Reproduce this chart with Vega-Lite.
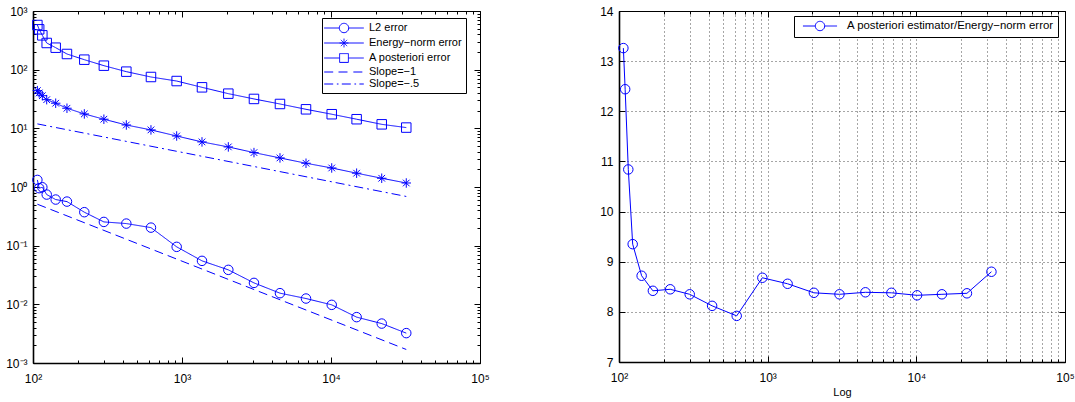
{
  "$schema": "https://vega.github.io/schema/vega-lite/v6.json",
  "padding": {"left": 5, "top": 4, "right": 0, "bottom": 0},
  "background": "white",
  "bounds": "flush",
  "spacing": 139,
  "resolve": {"scale": {"color": "independent", "shape": "independent", "strokeDash": "independent"}, "legend": {"color": "independent", "shape": "independent", "strokeDash": "independent"}},
  "config": {
    "font": "Liberation Sans",
    "view": {"stroke": "black", "strokeWidth": 1},
    "axis": {
      "labelFont": "Liberation Sans", "labelFontSize": 12, "labelColor": "black",
      "domain": false, "grid": false, "labelOverlap": false, "labelFlush": false, "labelBound": false,
      "tickColor": "black", "tickWidth": 1, "domainColor": "black", "domainWidth": 1.6,
      "titleFont": "Liberation Sans", "titleFontSize": 11, "titleFontWeight": "normal", "titleColor": "black"
    },
    "legend": {
      "orient": "none", "title": null, "strokeColor": "black", "fillColor": "white",
      "padding": 4, "labelFont": "Liberation Sans", "labelFontSize": 11, "labelColor": "black",
      "symbolSize": 121, "symbolStrokeWidth": 1, "labelLimit": 0, "rowPadding": 1
    }
  },
  "datasets": {
    "left": [
      {"series": "L2 error", "x": 107, "y": 1.32},
      {"series": "L2 error", "x": 110, "y": 0.955},
      {"series": "L2 error", "x": 115.5, "y": 0.99},
      {"series": "L2 error", "x": 123.6, "y": 0.743},
      {"series": "L2 error", "x": 142, "y": 0.611},
      {"series": "L2 error", "x": 169, "y": 0.564},
      {"series": "L2 error", "x": 221, "y": 0.372},
      {"series": "L2 error", "x": 299, "y": 0.254},
      {"series": "L2 error", "x": 423, "y": 0.238},
      {"series": "L2 error", "x": 619, "y": 0.203},
      {"series": "L2 error", "x": 921, "y": 0.0955},
      {"series": "L2 error", "x": 1362, "y": 0.0551},
      {"series": "L2 error", "x": 2046, "y": 0.0387},
      {"series": "L2 error", "x": 3041, "y": 0.0232},
      {"series": "L2 error", "x": 4545, "y": 0.0155},
      {"series": "L2 error", "x": 6796, "y": 0.01256},
      {"series": "L2 error", "x": 10113, "y": 0.0098},
      {"series": "L2 error", "x": 14860, "y": 0.00605},
      {"series": "L2 error", "x": 21900, "y": 0.0047},
      {"series": "L2 error", "x": 32000, "y": 0.00323},
      {"series": "Energy−norm error", "x": 107, "y": 43.9},
      {"series": "Energy−norm error", "x": 110, "y": 40.1},
      {"series": "Energy−norm error", "x": 115.5, "y": 36},
      {"series": "Energy−norm error", "x": 123.6, "y": 30.8},
      {"series": "Energy−norm error", "x": 142, "y": 26.8},
      {"series": "Energy−norm error", "x": 169, "y": 22},
      {"series": "Energy−norm error", "x": 221, "y": 17.6},
      {"series": "Energy−norm error", "x": 299, "y": 14.3},
      {"series": "Energy−norm error", "x": 423, "y": 11.4},
      {"series": "Energy−norm error", "x": 619, "y": 9.4},
      {"series": "Energy−norm error", "x": 921, "y": 7.4},
      {"series": "Energy−norm error", "x": 1362, "y": 5.87},
      {"series": "Energy−norm error", "x": 2046, "y": 4.82},
      {"series": "Energy−norm error", "x": 3041, "y": 3.86},
      {"series": "Energy−norm error", "x": 4545, "y": 3.13},
      {"series": "Energy−norm error", "x": 6796, "y": 2.54},
      {"series": "Energy−norm error", "x": 10113, "y": 2.11},
      {"series": "Energy−norm error", "x": 14860, "y": 1.72},
      {"series": "Energy−norm error", "x": 21900, "y": 1.41},
      {"series": "Energy−norm error", "x": 32000, "y": 1.17},
      {"series": "A posteriori error", "x": 107, "y": 577},
      {"series": "A posteriori error", "x": 110, "y": 487},
      {"series": "A posteriori error", "x": 115.5, "y": 385},
      {"series": "A posteriori error", "x": 123.6, "y": 285},
      {"series": "A posteriori error", "x": 142, "y": 237},
      {"series": "A posteriori error", "x": 169, "y": 185},
      {"series": "A posteriori error", "x": 221, "y": 148},
      {"series": "A posteriori error", "x": 299, "y": 117},
      {"series": "A posteriori error", "x": 423, "y": 92.5},
      {"series": "A posteriori error", "x": 619, "y": 75},
      {"series": "A posteriori error", "x": 921, "y": 64},
      {"series": "A posteriori error", "x": 1362, "y": 50},
      {"series": "A posteriori error", "x": 2046, "y": 39},
      {"series": "A posteriori error", "x": 3041, "y": 31.7},
      {"series": "A posteriori error", "x": 4545, "y": 26},
      {"series": "A posteriori error", "x": 6796, "y": 21.1},
      {"series": "A posteriori error", "x": 10113, "y": 17.4},
      {"series": "A posteriori error", "x": 14860, "y": 14.3},
      {"series": "A posteriori error", "x": 21900, "y": 11.7},
      {"series": "A posteriori error", "x": 32000, "y": 10.3},
      {"series": "Slope=−1", "x": 107, "y": 0.509},
      {"series": "Slope=−1", "x": 32000, "y": 0.0017},
      {"series": "Slope=−.5", "x": 107, "y": 11.9},
      {"series": "Slope=−.5", "x": 32000, "y": 0.69}
    ],
    "right": [
      {"series": "A posteriori estimator/Energy−norm error", "x": 107, "ratio": 13.26},
      {"series": "A posteriori estimator/Energy−norm error", "x": 110, "ratio": 12.44},
      {"series": "A posteriori estimator/Energy−norm error", "x": 115.5, "ratio": 10.84},
      {"series": "A posteriori estimator/Energy−norm error", "x": 123.6, "ratio": 9.35},
      {"series": "A posteriori estimator/Energy−norm error", "x": 142, "ratio": 8.72},
      {"series": "A posteriori estimator/Energy−norm error", "x": 169, "ratio": 8.42},
      {"series": "A posteriori estimator/Energy−norm error", "x": 221, "ratio": 8.45},
      {"series": "A posteriori estimator/Energy−norm error", "x": 299, "ratio": 8.35},
      {"series": "A posteriori estimator/Energy−norm error", "x": 423, "ratio": 8.12},
      {"series": "A posteriori estimator/Energy−norm error", "x": 619, "ratio": 7.92},
      {"series": "A posteriori estimator/Energy−norm error", "x": 921, "ratio": 8.68},
      {"series": "A posteriori estimator/Energy−norm error", "x": 1362, "ratio": 8.56},
      {"series": "A posteriori estimator/Energy−norm error", "x": 2046, "ratio": 8.38},
      {"series": "A posteriori estimator/Energy−norm error", "x": 3041, "ratio": 8.35},
      {"series": "A posteriori estimator/Energy−norm error", "x": 4545, "ratio": 8.39},
      {"series": "A posteriori estimator/Energy−norm error", "x": 6796, "ratio": 8.38},
      {"series": "A posteriori estimator/Energy−norm error", "x": 10113, "ratio": 8.33},
      {"series": "A posteriori estimator/Energy−norm error", "x": 14860, "ratio": 8.35},
      {"series": "A posteriori estimator/Energy−norm error", "x": 21900, "ratio": 8.37},
      {"series": "A posteriori estimator/Energy−norm error", "x": 32000, "ratio": 8.80}
    ]
  },
  "hconcat": [
    {
      "width": 447,
      "height": 352,
      "data": {"name": "left"},
      "layer": [
        {
          "mark": {"type": "line", "strokeWidth": 1, "clip": true},
          "encoding": {
            "x": {"field": "x", "type": "quantitative",
              "scale": {"type": "log", "domain": [100, 100000], "nice": false},
              "axis": {"orient": "bottom", "title": null, "domain": true,
                "values": [100,200,300,400,500,600,700,800,900,1000,2000,3000,4000,5000,6000,7000,8000,9000,10000,20000,30000,40000,50000,60000,70000,80000,90000,100000],
                "labelExpr": "datum.value == 100 ? '10²' : datum.value == 1000 ? '10³' : datum.value == 10000 ? '10⁴' : datum.value == 100000 ? '10⁵' : ''",
                "tickSize": {"condition": {"test": "indexof([100,1000,10000,100000], datum.value) >= 0", "value": -6}, "value": -3},
                "labelPadding": 16}},
            "y": {"field": "y", "type": "quantitative",
              "scale": {"type": "log", "domain": [0.001, 1000], "nice": false},
              "axis": {"orient": "left", "title": null, "domain": true,
                "values": [0.001,0.002,0.003,0.004,0.005,0.006,0.007,0.008,0.009,0.01,0.02,0.03,0.04,0.05,0.06,0.07,0.08,0.09,0.1,0.2,0.3,0.4,0.5,0.6,0.7,0.8,0.9,1,2,3,4,5,6,7,8,9,10,20,30,40,50,60,70,80,90,100,200,300,400,500,600,700,800,900,1000],
                "labelExpr": "datum.value == 0.001 ? '10⁻³' : datum.value == 0.01 ? '10⁻²' : datum.value == 0.1 ? '10⁻¹' : datum.value == 1 ? '10⁰' : datum.value == 10 ? '10¹' : datum.value == 100 ? '10²' : datum.value == 1000 ? '10³' : ''",
                "tickSize": {"condition": {"test": "indexof([0.001,0.01,0.1,1,10,100,1000], datum.value) >= 0", "value": -6}, "value": -3},
                "labelPadding": 12}},
            "color": {"field": "series", "type": "nominal",
              "scale": {"domain": ["L2 error", "Energy−norm error", "A posteriori error", "Slope=−1", "Slope=−.5"], "range": ["#0000ff","#0000ff","#0000ff","#0000ff","#0000ff"]},
              "legend": {"legendX": 289, "legendY": 7, "symbolOffset": 12, "labelOffset": 19,
                "encode": {"symbols": {"update": {
                  "fill": {"value": "transparent"}, "stroke": {"value": "#0000ff"}, "strokeDash": {"value": [1, 0]},
                  "shape": {"signal": "datum.value == 'L2 error' ? 'M-3.6,0H-0.85M0.85,0H3.6M0.85,0A0.85,0.85 0 1,1 -0.85,0A0.85,0.85 0 1,1 0.85,0' : datum.value == 'Energy−norm error' ? 'M-3.6,0H3.6M0,-0.8V0.8M-0.8,0H0.8M-0.57,-0.57L0.57,0.57M-0.57,0.57L0.57,-0.57' : datum.value == 'A posteriori error' ? 'M-3.6,0H-0.8M0.8,0H3.6M-0.8,-0.8H0.8V0.8H-0.8Z' : datum.value == 'Slope=−1' ? 'M-3.6,0H-1.9M-1,0H0.8M1.7,0H3.6' : 'M-3.6,0H-1.9M-1.3,0H-1M-0.4,0H1.3M1.9,0H2.2M2.8,0H3.6'"}
                }}}}},
            "strokeDash": {"field": "series", "type": "nominal",
              "scale": {"domain": ["L2 error", "Energy−norm error", "A posteriori error", "Slope=−1", "Slope=−.5"], "range": [[1,0],[1,0],[1,0],[9,5],[9,4,2,4]]},
              "legend": null}
          }
        },
        {
          "transform": [{"filter": "datum.series != 'Slope=−1' && datum.series != 'Slope=−.5'"}],
          "mark": {"type": "point", "filled": false, "color": "#0000ff", "strokeWidth": 1, "size": 90, "opacity": 1},
          "encoding": {
            "x": {"field": "x", "type": "quantitative",
              "axis": {"orient": "top", "title": null, "labels": false,
                "values": [100,200,300,400,500,600,700,800,900,1000,2000,3000,4000,5000,6000,7000,8000,9000,10000,20000,30000,40000,50000,60000,70000,80000,90000,100000],
                "tickSize": {"condition": {"test": "indexof([100,1000,10000,100000], datum.value) >= 0", "value": -6}, "value": -3}}},
            "y": {"field": "y", "type": "quantitative",
              "axis": {"orient": "right", "title": null, "labels": false,
                "values": [0.001,0.002,0.003,0.004,0.005,0.006,0.007,0.008,0.009,0.01,0.02,0.03,0.04,0.05,0.06,0.07,0.08,0.09,0.1,0.2,0.3,0.4,0.5,0.6,0.7,0.8,0.9,1,2,3,4,5,6,7,8,9,10,20,30,40,50,60,70,80,90,100,200,300,400,500,600,700,800,900,1000],
                "tickSize": {"condition": {"test": "indexof([0.001,0.01,0.1,1,10,100,1000], datum.value) >= 0", "value": -6}, "value": -3}}},
            "shape": {"field": "series", "type": "nominal",
              "scale": {"domain": ["L2 error", "Energy−norm error", "A posteriori error"], "range": ["circle", "M0,-1V1M-1,0H1M-0.7,-0.7L0.7,0.7M-0.7,0.7L0.7,-0.7", "square"]},
              "legend": null}
          }
        }
      ],
      "resolve": {"axis": {"x": "independent", "y": "independent"}}
    },
    {
      "width": 446,
      "height": 351,
      "data": {"name": "right"},
      "layer": [
        {
          "mark": {"type": "line", "strokeWidth": 1},
          "encoding": {
            "x": {"field": "x", "type": "quantitative",
              "scale": {"type": "log", "domain": [100, 100000], "nice": false},
              "axis": {"orient": "bottom", "title": "Log", "titlePadding": 0, "domain": true,
                "values": [100,200,300,400,500,600,700,800,900,1000,2000,3000,4000,5000,6000,7000,8000,9000,10000,20000,30000,40000,50000,60000,70000,80000,90000,100000],
                "labelExpr": "datum.value == 100 ? '10²' : datum.value == 1000 ? '10³' : datum.value == 10000 ? '10⁴' : datum.value == 100000 ? '10⁵' : ''",
                "tickSize": {"condition": {"test": "indexof([100,1000,10000,100000], datum.value) >= 0", "value": -6}, "value": -3},
                "labelPadding": 16,
                "grid": true, "gridDash": [1, 3], "gridColor": "black", "gridOpacity": 0.7, "gridWidth": 1}},
            "y": {"field": "ratio", "type": "quantitative",
              "scale": {"domain": [7, 14], "nice": false, "zero": false},
              "axis": {"orient": "left", "title": null, "domain": true, "values": [7,8,9,10,11,12,13,14], "format": "d",
                "tickSize": -6, "labelPadding": 12,
                "grid": true, "gridDash": [1, 3], "gridColor": "black", "gridOpacity": 0.7, "gridWidth": 1}},
            "color": {"field": "series", "type": "nominal",
              "scale": {"domain": ["A posteriori estimator/Energy−norm error"], "range": ["#0000ff"]},
              "legend": {"legendX": 175, "legendY": 5, "symbolOffset": 16, "labelOffset": 21, "labelFontSize": 11.4,
                "encode": {"symbols": {"update": {
                  "fill": {"value": "transparent"}, "stroke": {"value": "#0000ff"}, "strokeDash": {"value": [1, 0]},
                  "shape": {"value": "M-3.1,0H-0.85M0.85,0H3.1M0.85,0A0.85,0.85 0 1,1 -0.85,0A0.85,0.85 0 1,1 0.85,0"}
                }}}}}
          }
        },
        {
          "mark": {"type": "point", "filled": false, "color": "#0000ff", "strokeWidth": 1, "size": 90, "opacity": 1, "shape": "circle"},
          "encoding": {
            "x": {"field": "x", "type": "quantitative",
              "axis": {"orient": "top", "title": null, "labels": false,
                "values": [100,200,300,400,500,600,700,800,900,1000,2000,3000,4000,5000,6000,7000,8000,9000,10000,20000,30000,40000,50000,60000,70000,80000,90000,100000],
                "tickSize": {"condition": {"test": "indexof([100,1000,10000,100000], datum.value) >= 0", "value": -6}, "value": -3}}},
            "y": {"field": "ratio", "type": "quantitative",
              "axis": {"orient": "right", "title": null, "labels": false, "values": [7,8,9,10,11,12,13,14], "tickSize": -6}}
          }
        }
      ],
      "resolve": {"axis": {"x": "independent", "y": "independent"}}
    }
  ]
}
